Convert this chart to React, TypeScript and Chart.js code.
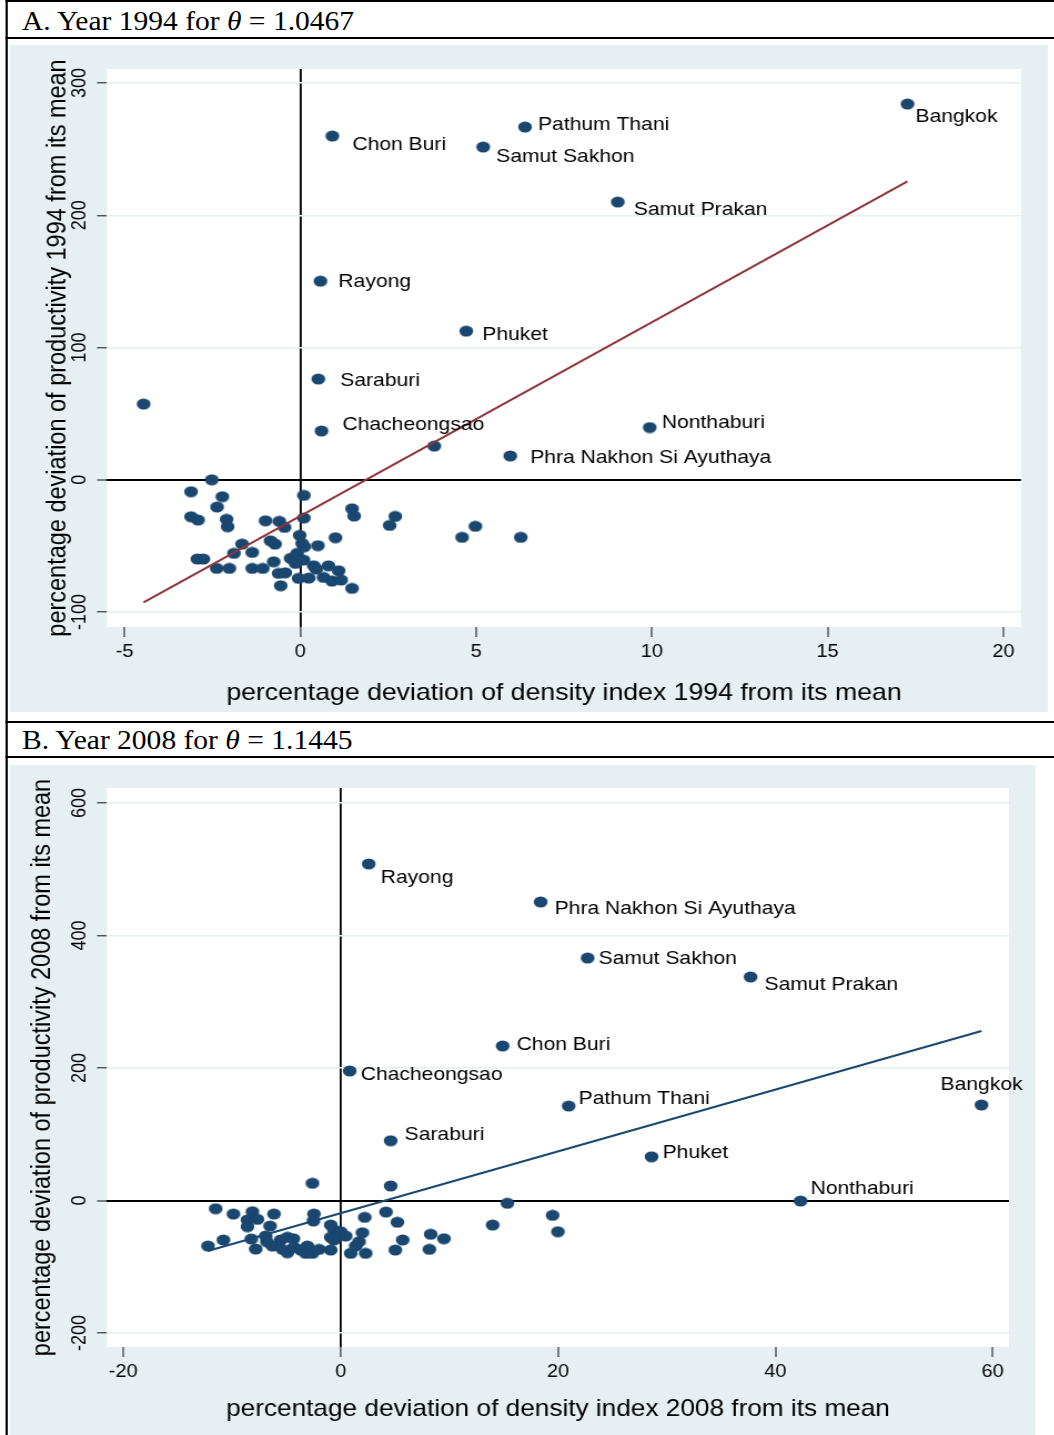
import { useEffect, useRef } from "react";
import { Chart, registerables } from "chart.js";

Chart.register(...registerables);

// The figure is laid out at a narrower native width and stretched horizontally.
const SX = 1.11;
const FIG_W = 950;
const FIG_H = 1435;

const SANS = "'Liberation Sans', Arial, Helvetica, sans-serif";
const SERIF = "'Liberation Serif', 'Times New Roman', serif";
const BG = "#e8eff2";
const NAVY = "#1a476f";
const MAROON = "#90353b";

// ---------- Panel A: 1994 ----------
const namesA = [
  "Bangkok", "Pathum Thani", "Chon Buri", "Samut Sakhon", "Samut Prakan", "Rayong",
  "Phuket", "Saraburi", "Chacheongsao", "Nonthaburi", "Phra Nakhon Si Ayuthaya",
];
// labelled provinces first, then the rest
const xA = [
  17.27, 6.39, 0.91, 5.2, 9.03, 0.57, 4.72, 0.51, 0.6, 9.94, 5.97,
  -4.46, 3.81, -2.52, -3.11, 0.1, -2.22, -2.37, 1.47, 1.53, 2.7, 2.54, -3.11, -2.91,
  -2.1, -2.07, -0.99, -0.6, -0.45, 0.1, -0.02, 0.05, 0.11, 0.5, 1.0, 4.98, 4.6, 6.27,
  -1.66, -1.37, -1.89, -0.85, -0.72, -2.93, -2.76, -2.38, -2.02, -1.37, -1.07, -0.76,
  -0.62, -0.43, -0.56, -0.28, -0.09, -0.14, 0.09, -0.05, 0.24, 0.38, 0.45, 0.8, 1.09,
  0.66, 0.9, 1.16, 1.47,
];
const yA = [
  284.1, 266.7, 259.9, 251.6, 210.0, 150.2, 112.4, 76.2, 36.9, 39.5, 18.0,
  57.3, 25.5, 0.0, -9.0, -11.8, -12.8, -20.6, -21.9, -27.4, -27.7, -34.5, -27.9, -30.4,
  -29.9, -35.5, -31.0, -31.4, -36.0, -28.9, -42.0, -48.1, -50.6, -49.8, -43.8, -35.2,
  -43.5, -43.5, -48.6, -54.9, -55.6, -46.1, -48.6, -59.9, -59.9, -67.0, -67.0, -67.0,
  -67.0, -62.0, -70.8, -70.3, -80.1, -59.4, -55.6, -63.2, -60.7, -74.5, -74.3, -65.0,
  -67.5, -65.0, -68.8, -73.8, -76.6, -75.8, -82.1,
];
// fitted line end points
const fitXA = [-4.46, 17.27];
const fitYA = [-92.7, 225.7];
const xTicksA = [-5, 0, 5, 10, 15, 20];
const yTicksA = [-100, 0, 100, 200, 300];

// ---------- Panel B: 2008 ----------
const namesB = [
  "Rayong", "Phra Nakhon Si Ayuthaya", "Samut Sakhon", "Samut Prakan", "Chon Buri",
  "Chacheongsao", "Pathum Thani", "Bangkok", "Saraburi", "Phuket", "Nonthaburi",
];
const xB = [
  2.58, 18.4, 22.72, 37.72, 14.9, 0.83, 20.98, 58.97, 4.6, 28.61, 42.32,
  -2.6, 4.6, 15.34, -11.5, -9.87, -8.12, -6.14, -2.46, -2.51, -8.58, -7.66, -8.58, -6.5,
  2.21, 4.17, 5.22, 13.98, 19.5, 19.99, 8.28, 9.5, 5.7, 8.16, 5.03, 2.3, 0.92, 1.38,
  1.69, 2.0, -0.92, -0.62, 0.0, 0.46, -0.92, -0.62, -0.92, -12.21, -10.79, -7.82, -8.22,
  -6.9, -6.79, -6.28, -5.52, -4.9, -4.35, -5.36, -4.9, -4.3, -3.68, -3.06, -3.22, -2.6,
  -1.99,
];
const yB = [
  507.9, 450.6, 366.0, 337.4, 233.2, 195.5, 142.6, 144.2, 90.2, 66.0, -0.8,
  26.0, 21.9, -4.2, -12.4, -20.4, -16.9, -20.4, -20.4, -30.9, -29.4, -28.4, -39.5, -38.5,
  -25.4, -17.4, -32.9, -37.0, -22.4, -47.1, -51.0, -57.7, -59.6, -73.7, -74.7, -79.7,
  -79.7, -68.7, -62.2, -48.6, -37.0, -44.5, -47.1, -53.6, -55.5, -59.6, -74.7, -68.7,
  -59.6, -73.2, -58.1, -53.6, -62.2, -68.7, -59.6, -55.5, -57.7, -73.7, -78.8, -70.6,
  -74.7, -68.7, -79.7, -79.7, -73.7,
];
const fitXB = [-12.24, 58.97];
const fitYB = [-76.2, 255.8];
const xTicksB = [-20, 0, 20, 40, 60];
const yTicksB = [-200, 0, 200, 400, 600];

// label placement relative to each marker: [dx, dy] in screen px, plus alignment
type Nudge = [number, number, CanvasTextAlign];
const nudgeA: Nudge[] = [
  [8, 13, "left"], [13, -2, "left"], [20, 9, "left"], [13, 10, "left"], [16, 8, "left"],
  [18, 1, "left"], [16, 4, "left"], [22, 2, "left"], [21, -6, "left"], [12, -5, "left"],
  [20, 2, "left"],
];
const nudgeB: Nudge[] = [
  [12, 14, "left"], [14, 7, "left"], [11, 1, "left"], [14, 8, "left"], [14, -1, "left"],
  [11, 4, "left"], [10, -7, "left"], [0, -20, "center"], [14, -6, "left"], [11, -4, "left"],
  [10, -12, "left"],
];

type PanelSpec = {
  names: string[];
  xs: number[];
  ys: number[];
  fitX: number[];
  fitY: number[];
  fitColor: string;
  xTicks: number[];
  yTicks: number[];
  xMin: number;
  xMax: number;
  yMin: number;
  yMax: number;
  xTitle: string;
  yTitle: string;
  xTitleSize: number;
  nudges: Nudge[];
  width: number;
  height: number;
  areaLeft: number;
  areaTop: number;
  areaRight: number;
  areaBottom: number;
  xTitlePad: number;
  yTitlePad: number;
};

function makeMarker(): HTMLCanvasElement {
  const c = document.createElement("canvas");
  c.width = 14;
  c.height = 12;
  const g = c.getContext("2d")!;
  g.fillStyle = NAVY;
  g.beginPath();
  g.ellipse(7, 6, 6.2, 5.6, 0, 0, Math.PI * 2);
  g.fill();
  return c;
}

const panelPlugin = {
  id: "panel",
  beforeDraw(chart: any) {
    const { ctx, chartArea: a, width, height } = chart;
    ctx.save();
    ctx.fillStyle = BG;
    ctx.fillRect(0, 0, width, height);
    ctx.fillStyle = "#ffffff";
    ctx.fillRect(a.left, a.top, a.right - a.left, a.bottom - a.top);
    ctx.restore();
  },
  afterDatasetsDraw(chart: any, _args: any, opts: any) {
    const { ctx } = chart;
    const meta = chart.getDatasetMeta(0);
    const names: string[] = opts.names || [];
    const nudges: Nudge[] = opts.nudges || [];
    ctx.save();
    ctx.font = `19px ${SANS}`;
    ctx.fillStyle = "#000";
    ctx.textBaseline = "middle";
    names.forEach((name, i) => {
      const pt = meta.data[i];
      if (!pt) return;
      const [dx, dy, align] = nudges[i] || [15, 0, "left"];
      ctx.textAlign = align;
      ctx.fillText(name, pt.x + dx / SX, pt.y + dy);
    });
    ctx.restore();
  },
};

function buildConfig(p: PanelSpec): any {
  const marker = makeMarker();
  const points = p.xs.map((x, i) => ({ x, y: p.ys[i] }));
  const fit = p.fitX.map((x, i) => ({ x, y: p.fitY[i] }));
  const xAxisH = p.height - p.areaBottom;
  return {
    type: "scatter",
    data: {
      datasets: [
        {
          data: points,
          pointStyle: marker,
          pointRadius: 6,
          pointHoverRadius: 6,
          backgroundColor: NAVY,
          borderWidth: 0,
          order: 1,
        },
        {
          data: fit,
          showLine: true,
          borderColor: p.fitColor,
          borderWidth: 2,
          pointRadius: 0,
          pointHoverRadius: 0,
          fill: false,
          order: 0,
        },
      ],
    },
    options: {
      animation: false,
      responsive: false,
      devicePixelRatio: 1,
      events: [],
      layout: {
        padding: { left: 0, top: p.areaTop, right: p.width - p.areaRight, bottom: 0 },
      },
      plugins: {
        legend: { display: false },
        tooltip: { enabled: false },
        panel: { names: p.names, nudges: p.nudges },
      },
      scales: {
        x: {
          type: "linear",
          position: "bottom",
          min: p.xMin,
          max: p.xMax,
          afterBuildTicks: (s: any) => {
            s.ticks = p.xTicks.map((value) => ({ value }));
          },
          afterFit: (s: any) => {
            s.height = xAxisH;
          },
          border: { display: false },
          grid: {
            drawOnChartArea: true,
            color: (c: any) => (c.tick && c.tick.value === 0 ? "#000" : "rgba(0,0,0,0)"),
            lineWidth: (c: any) => (c.tick && c.tick.value === 0 ? 1.8 : 0),
            tickColor: "#333",
            tickWidth: 1.2,
            tickLength: 10,
          },
          ticks: {
            autoSkip: false,
            maxRotation: 0,
            minRotation: 0,
            padding: 4.2,
            color: "#000",
            font: { family: SANS, size: 18 },
            callback: (v: any) => String(v),
          },
          title: {
            display: true,
            text: p.xTitle,
            color: "#000",
            font: { family: SANS, size: p.xTitleSize },
            padding: { top: 0, bottom: p.xTitlePad },
          },
        },
        y: {
          type: "linear",
          position: "left",
          min: p.yMin,
          max: p.yMax,
          afterBuildTicks: (s: any) => {
            s.ticks = p.yTicks.map((value) => ({ value }));
          },
          afterFit: (s: any) => {
            s.width = p.areaLeft;
          },
          border: { display: false },
          grid: {
            drawOnChartArea: true,
            color: (c: any) => (c.tick && c.tick.value === 0 ? "#000" : BG),
            lineWidth: (c: any) => (c.tick && c.tick.value === 0 ? 2 : 1.5),
            tickColor: "#333",
            tickWidth: 1.2,
            tickLength: 9,
          },
          ticks: {
            autoSkip: false,
            minRotation: 90,
            maxRotation: 90,
            crossAlign: "center",
            padding: -3.1,
            color: "#000",
            font: { family: SANS, size: 18 },
            callback: (v: any) => String(v),
          },
          title: {
            display: true,
            text: p.yTitle,
            color: "#000",
            font: { family: SANS, size: 23.5 },
            padding: { top: p.yTitlePad, bottom: 0 },
          },
        },
      },
    },
    plugins: [panelPlugin],
  };
}

const specA: PanelSpec = {
  names: namesA,
  xs: xA,
  ys: yA,
  fitX: fitXA,
  fitY: fitYA,
  fitColor: MAROON,
  xTicks: xTicksA,
  yTicks: yTicksA,
  xMin: -5.5,
  xMax: 20.5,
  yMin: -111.3,
  yMax: 310.6,
  xTitle: "percentage deviation of density index 1994 from its mean",
  yTitle: "percentage deviation of productivity 1994 from its mean",
  xTitleSize: 24,
  nudges: nudgeA,
  width: 935,
  height: 667,
  areaLeft: 87.4,
  areaTop: 24,
  areaRight: 910.8,
  areaBottom: 582,
  xTitlePad: 4.6,
  yTitlePad: 29.1,
};

const specB: PanelSpec = {
  names: namesB,
  xs: xB,
  ys: yB,
  fitX: fitXB,
  fitY: fitYB,
  fitColor: NAVY,
  xTicks: xTicksB,
  yTicks: yTicksB,
  xMin: -21.5,
  xMax: 61.5,
  yMin: -221.1,
  yMax: 622.6,
  xTitle: "percentage deviation of density index 2008 from its mean",
  yTitle: "percentage deviation of productivity 2008 from its mean",
  xTitleSize: 23.6,
  nudges: nudgeB,
  width: 924,
  height: 670,
  areaLeft: 87.4,
  areaTop: 23,
  areaRight: 900,
  areaBottom: 582,
  xTitlePad: 11.8,
  yTitlePad: 15.6,
};

function ScatterPanel({ spec, top }: { spec: PanelSpec; top: number }) {
  const ref = useRef<HTMLCanvasElement>(null);
  useEffect(() => {
    const chart = new Chart(ref.current!, buildConfig(spec));
    return () => chart.destroy();
  }, [spec]);
  return (
    <canvas
      ref={ref}
      width={spec.width}
      height={spec.height}
      style={{ position: "absolute", left: 9, top, width: spec.width, height: spec.height }}
    />
  );
}

const rule = (top: number): React.CSSProperties => ({
  position: "absolute",
  left: 4.6,
  top,
  width: FIG_W - 4.6,
  height: 2,
  background: "#000",
});

const headerStyle = (top: number): React.CSSProperties => ({
  position: "absolute",
  left: 19.8,
  top,
  fontFamily: SERIF,
  fontSize: 26.6,
  lineHeight: "26px",
  color: "#000",
  whiteSpace: "nowrap",
});

export default function App() {
  return (
    <div
      style={{
        position: "absolute",
        left: 0,
        top: 0,
        width: FIG_W,
        height: FIG_H,
        background: "#fff",
        transform: `scaleX(${SX})`,
        transformOrigin: "0 0",
        overflow: "hidden",
      }}
    >
      <div style={{ position: "absolute", left: 4.6, top: 0, width: 2, height: FIG_H, background: "#000" }} />
      <div style={rule(0)} />
      <div style={rule(37)} />
      <div style={rule(721)} />
      <div style={rule(756)} />
      <div style={headerStyle(7.5)}>
        A. Year 1994 for <i>θ</i> = 1.0467
      </div>
      <div style={headerStyle(726.8)}>
        B. Year 2008 for <i>θ</i> = 1.1445
      </div>
      <ScatterPanel spec={specA} top={45} />
      <ScatterPanel spec={specB} top={765} />
    </div>
  );
}
